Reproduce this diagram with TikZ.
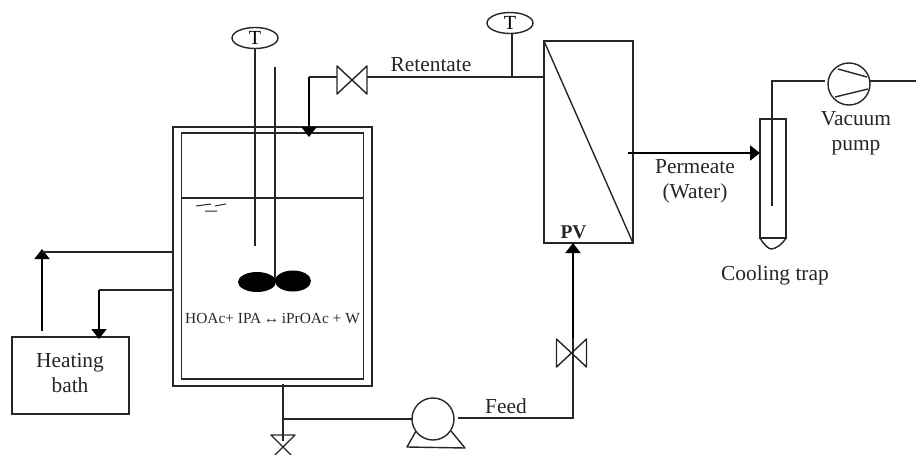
\documentclass[tikz,border=0pt]{standalone}
\usepackage{fontspec}
\setmainfont{Liberation Serif}
\usetikzlibrary{arrows.meta,calc,shapes.geometric}
\definecolor{ink}{HTML}{262626}
\tikzset{
  x=1pt,y=-1pt,
  lin/.style={draw=ink,line width=1.4pt},
  heavy/.style={draw=black,line width=1.8pt},
  flow/.style={heavy,-{Triangle[length=10pt,width=15pt]}},
  boxn/.style={lin,rectangle,inner sep=0pt,outer sep=0pt},
  gauge/.style={lin,ellipse,inner sep=0pt,outer sep=0pt,minimum width=46pt,minimum height=21pt,font=\fontsize{20}{20}\selectfont},
  roundn/.style={lin,circle,inner sep=0pt,outer sep=0pt,minimum size=42pt},
  lab/.style={font=\fontsize{21.4}{25}\selectfont,text=ink,align=center,inner sep=0pt},
  valvepic/.pic={\draw[lin,line join=round] (-15,-14)--(15,14)--(15,-14)--(-15,14)--cycle;},
  valvevert/.pic={\draw[lin,line join=round] (-12,-12)--(12,-12)--(-12,12)--(12,12)--cycle;},
}
\begin{document}
\begin{tikzpicture}
\useasboundingbox (0,0) rectangle (916,455);
% vessel
\node[boxn,line width=1.6pt,minimum width=199pt,minimum height=259pt] (jacket) at (272.5,256.5) {};
\node[boxn,line width=1.6pt,minimum width=182pt,minimum height=246pt] (vessel) at (272.5,256) {};
\coordinate (levL) at (vessel.west |- 0,198);
\coordinate (levR) at (vessel.east |- 0,198);
\draw[lin] (levL) -- (levR);
\draw[lin,line width=1pt] (196,206)--(211,204) (215,206)--(226,204) (205,211)--(217,211);
% thermometer and stirrer
\node[gauge] (t1) at (255,38) {T};
\coordinate (t1end) at (255,246);
\draw[lin] (t1.south -| t1end) -- (t1end);
\coordinate (stirTop) at (275,67);
\coordinate (stirEnd) at (275,281);
\draw[lin] (stirTop) -- (stirEnd);
\node[ellipse,fill=black,inner sep=0pt,minimum width=38pt,minimum height=20pt] (bladeL) at (257,282) {};
\node[ellipse,fill=black,inner sep=0pt,minimum width=36pt,minimum height=21pt] (bladeR) at (293,281) {};
\node[lab,font=\fontsize{15.4}{17}\selectfont] (rxn) at (272.5,318.5) {HOAc+ IPA\,↔\,iPrOAc + W};
% heating bath
\node[boxn,minimum width=117pt,minimum height=77pt] (bath) at (70.5,375.5) {};
\node[lab] (bathtxt) at (70,373.5) {Heating\\bath};
\coordinate (upS) at (42,331);
\coordinate (upT) at (42,249);
\coordinate (upK) at (42,252);
\coordinate (jout) at (jacket.west |- upK);
\draw[flow] (upS) -- (upT);
\draw[lin] (jout) -- (upK);
\coordinate (backK) at (99,290);
\coordinate (jback) at (jacket.west |- backK);
\coordinate (bathIn) at (99,339);
\draw[lin] (jback) -- (backK);
\draw[flow] (backK) -- (bathIn);
% retentate
\pic at (352,80) {valvepic};
\coordinate (vt) at (337,77);
\coordinate (retK) at (309,77);
\coordinate (retin) at (309,137);
\draw[lin] (vt) -- (retK);
\draw[flow] (retK) -- (retin);
\node[lab] (ret) at (431,65) {Retentate};
% PV
\node[boxn,minimum width=89pt,minimum height=202pt] (pv) at (588.5,142) {};
\draw[lin] (pv.north west) -- (pv.south east);
\node[lab,font=\fontsize{19.5}{20}\selectfont\bfseries] (pvl) at (573.5,232) {PV};
\coordinate (vr) at (367,77);
\draw[lin] (vr) -- (vr -| pv.west);
\node[gauge] (t2) at (510,23) {T};
\coordinate (t2s) at (512,77);
\draw[lin] (t2.south -| t2s) -- (t2s);
% drain, pump, feed
\coordinate (drainT) at (283,384);
\coordinate (drainB) at (283,441);
\draw[lin] (drainT) -- (drainB);
\pic at (283,447) {valvevert};
\node[roundn] (pump) at (433,419) {};
\coordinate (tee) at (282,419);
\draw[lin] (tee) -- (pump.west);
\draw[lin,line join=round] (416,431)--(407,447)--(465,448)--(451,431);
\coordinate (pumpOut) at (458,418);
\coordinate (corner) at (573,418);
\coordinate (fv1) at (573,353);
\coordinate (fv2) at (573,338);
\draw[lin] (pumpOut) -- (corner) -- (fv1);
\pic at (571.5,353) {valvepic};
\draw[lin] (fv1) -- (fv2);
\draw[flow] (fv2) -- (fv2 |- pv.south);
\node[lab] (feed) at (506,406) {Feed};
% permeate
\node[boxn,minimum width=26pt,minimum height=119pt] (trap) at (773,178.5) {};
\coordinate (pmS) at (628,153);
\draw[flow] (pmS) -- (trap.west |- pmS);
\node[lab] (perm) at (695,181) {Permeate\\(Water)};
\draw[lin] (trap.south west) .. controls (764,245) and (769,249) .. (771,249) .. controls (775,249) and (782,245) .. (trap.south east);
\coordinate (tube) at (772,206);
\coordinate (tubeK) at (772,81);
\coordinate (tubeE) at (825,81);
\node[roundn] (vac) at (849,84) {};
\draw[lin] (tube) -- (tubeK) -- (tubeE);
\coordinate (outlet) at (916,81);
\draw[lin] (vac.east |- outlet) -- (outlet);
\draw[lin] (838,69)--(867,77) (835,97)--(868,89);
\node[lab] (vacl) at (856,133) {Vacuum\\pump};
\node[lab] (cool) at (775,275) {Cooling trap};
\end{tikzpicture}
\end{document}
